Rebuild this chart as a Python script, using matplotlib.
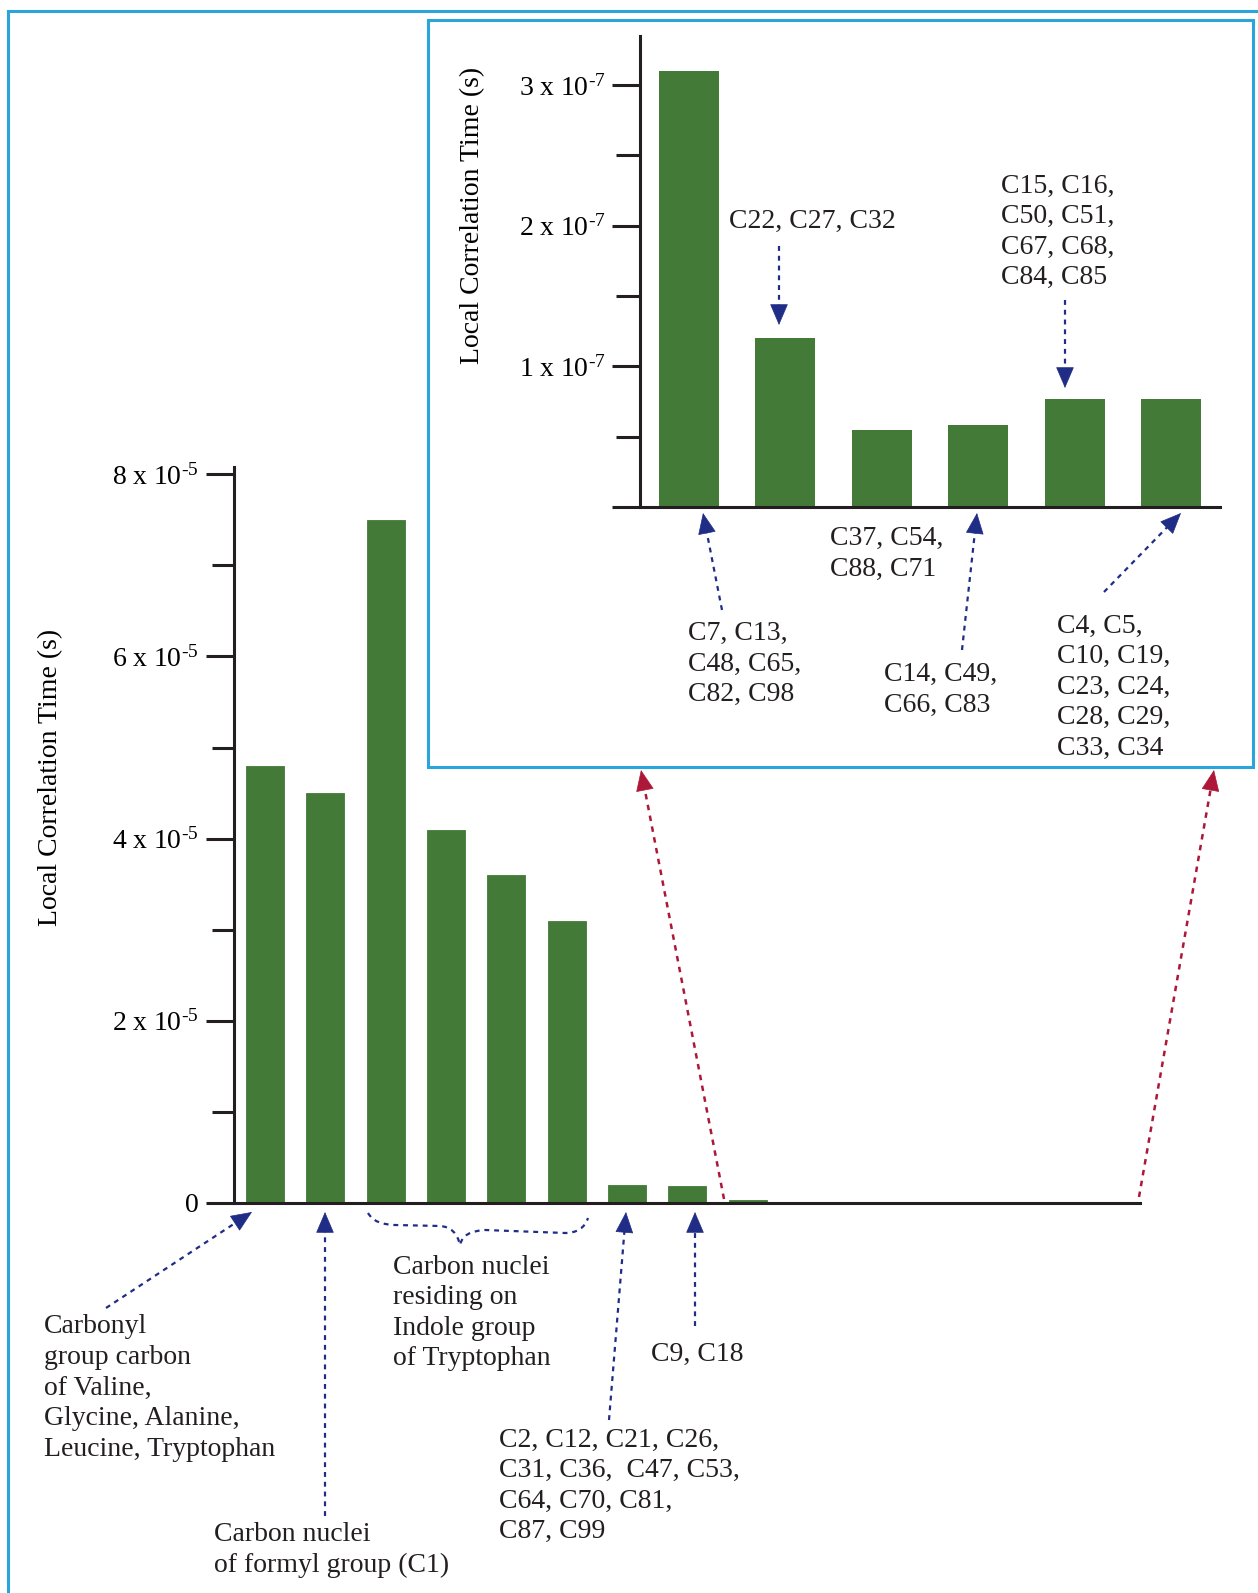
import matplotlib
matplotlib.use('Agg')
import matplotlib.pyplot as plt
from matplotlib.path import Path
from matplotlib.patches import PathPatch, Rectangle, FancyArrowPatch

# ---------------- data ----------------
main_values = [4.8e-5, 4.5e-5, 7.5e-5, 4.1e-5, 3.6e-5, 3.1e-5,
               2.0e-6, 1.9e-6, 3.1e-7, 1.2e-7, 0.55e-7, 0.58e-7, 0.77e-7, 0.77e-7]
inset_values = [3.1e-7, 1.2e-7, 0.55e-7, 0.58e-7, 0.77e-7, 0.77e-7]

main_major_ticks = [0, 2e-5, 4e-5, 6e-5, 8e-5]
main_minor_ticks = [1e-5, 3e-5, 5e-5, 7e-5]
main_tick_mantissa = ['0', '2', '4', '6', '8']
main_exponent = '-5'

inset_major_ticks = [0, 1e-7, 2e-7, 3e-7]
inset_minor_ticks = [0.5e-7, 1.5e-7, 2.5e-7]
inset_tick_mantissa = ['', '1', '2', '3']
inset_exponent = '-7'

ylabel = 'Local Correlation Time (s)'

# ---------------- style ----------------
W, H, DPI = 1258, 1593, 100
GREEN = '#437a37'
BLUE_FRAME = '#2aa5dc'
NAVY = '#1f2d86'
RED = '#ad1838'
AXC = '#231f20'
FONT = 'Liberation Serif'
FS = 20

plt.rcParams['font.family'] = [FONT, 'DejaVu Serif']
plt.rcParams['mathtext.fontset'] = 'custom'
plt.rcParams['mathtext.rm'] = FONT
plt.rcParams['mathtext.it'] = FONT + ':italic'
plt.rcParams['mathtext.default'] = 'regular'

fig = plt.figure(figsize=(W / DPI, H / DPI), dpi=DPI)
fig.patch.set_facecolor('white')


def frac_rect(x0, y_top, x1, y_bot):
    return [x0 / W, 1 - y_bot / H, (x1 - x0) / W, (y_bot - y_top) / H]


def tick_label(m, e):
    if m == '':
        return ''
    if m == '0':
        return '0'
    return r'$%s\ \mathrm{x}\ 10^{\text{-}%s}$' % (m, e.lstrip('-'))


def style_axes(ax, major, minor, mantissa, exponent, maj_len, min_len):
    for s in ['top', 'right']:
        ax.spines[s].set_visible(False)
    for s in ['left', 'bottom']:
        ax.spines[s].set_linewidth(2.2)
        ax.spines[s].set_color(AXC)
    ax.set_xticks([])
    ax.set_yticks(major)
    ax.set_yticks(minor, minor=True)
    ax.set_yticklabels([tick_label(m, exponent) for m in mantissa])
    ax.tick_params(axis='y', which='major', length=maj_len, width=2.2,
                   color=AXC, labelsize=FS, pad=5)
    ax.tick_params(axis='y', which='minor', length=min_len, width=2.2, color=AXC)
    ax.patch.set_alpha(0)


# ---------------- main chart ----------------
ax = fig.add_axes(frac_rect(234, 467, 1140, 1203))
ax.bar(range(len(main_values)), main_values, width=0.63, color=GREEN, zorder=1,
       edgecolor=GREEN, linewidth=0.6)
ax.set_xlim(-0.514, 14.5)
ax.set_ylim(0, 8.08e-5)
style_axes(ax, main_major_ticks, main_minor_ticks, main_tick_mantissa,
           main_exponent, 20.5, 16)

# ---------------- inset chart ----------------
axi = fig.add_axes(frac_rect(640, 35.6, 1220, 507))
axi.bar(range(len(inset_values)), inset_values, width=0.62, color=GREEN, zorder=1)
axi.set_xlim(-0.508, 5.508)
axi.set_ylim(0, 3.35e-7)
style_axes(axi, inset_major_ticks, inset_minor_ticks, inset_tick_mantissa,
           inset_exponent, 20, 17)

# y labels
fig.text(51 / W, 1 - 777 / H, ylabel, rotation=90, ha='center', va='center', fontsize=FS)
fig.text(473 / W, 1 - 215 / H, ylabel, rotation=90, ha='center', va='center', fontsize=FS)

# ---------------- overlay (pixel coordinates) ----------------
ov = fig.add_axes([0, 0, 1, 1], zorder=10)
ov.set_xlim(0, W)
ov.set_ylim(H, 0)
ov.axis('off')
ov.patch.set_alpha(0)

# frames
ov.plot([8, 8, 1258], [1600, 11, 11], color=BLUE_FRAME, lw=2.2, solid_joinstyle='miter')
ov.add_patch(Rectangle((428, 20), 825, 747, fill=False, lw=2.2, edgecolor=BLUE_FRAME))

# text blocks: (x_left, y_center, text)
texts = [
    (44, 1388, 'Carbonyl\ngroup carbon\nof Valine,\nGlycine, Alanine,\nLeucine, Tryptophan'),
    (214, 1550, 'Carbon nuclei\nof formyl group (C1)'),
    (393, 1313, 'Carbon nuclei\nresiding on\nIndole group\nof Tryptophan'),
    (499, 1486, 'C2, C12, C21, C26,\nC31, C36,  C47, C53,\nC64, C70, C81,\nC87, C99'),
    (651, 1354, 'C9, C18'),
    (729, 221, 'C22, C27, C32'),
    (1001, 232, 'C15, C16,\nC50, C51,\nC67, C68,\nC84, C85'),
    (688, 664, 'C7, C13,\nC48, C65,\nC82, C98'),
    (830, 554, 'C37, C54,\nC88, C71'),
    (884, 690, 'C14, C49,\nC66, C83'),
    (1057, 687, 'C4, C5,\nC10, C19,\nC23, C24,\nC28, C29,\nC33, C34'),
]
for x, y, t in texts:
    ov.text(x, y, t, ha='left', va='center', fontsize=FS, linespacing=1.29,
            color='#231f20')


def dotted_arrow(tail, head, color, lw=1.6):
    import math
    dx, dy = head[0] - tail[0], head[1] - tail[1]
    L = math.hypot(dx, dy)
    ux, uy = dx / L, dy / L
    hl = 14
    mid = (head[0] - ux * hl, head[1] - uy * hl)
    ov.plot([tail[0], mid[0] + ux * 2], [tail[1], mid[1] + uy * 2], color=color,
            lw=lw, linestyle=(0, (2.2, 2.2)), solid_capstyle='butt')
    ov.add_patch(FancyArrowPatch(mid, head, arrowstyle='-|>,head_length=0.7,head_width=0.3',
                                 mutation_scale=20, color=color, lw=0.5,
                                 shrinkA=0, shrinkB=0))


blue_arrows = [
    ((106, 1308), (252, 1212)),
    ((325, 1516), (325, 1212)),
    ((609, 1420), (626, 1212)),
    ((695, 1326), (695, 1212)),
    ((779, 246), (779, 325)),
    ((1065, 300), (1065, 388)),
    ((722, 610), (703, 513)),
    ((962, 650), (977, 513)),
    ((1104, 592), (1181, 513)),
]
for t, h in blue_arrows:
    dotted_arrow(t, h, NAVY)

red_arrows = [
    ((724, 1199), (641, 770)),
    ((1139, 1197), (1214, 770)),
]
for t, h in red_arrows:
    dotted_arrow(t, h, RED, lw=1.8)

# dotted curly brace under the indole bars
verts = [(368, 1213), (375, 1225), (395, 1225), (440, 1226), (456, 1227), (460, 1245),
         (463, 1231), (485, 1230), (565, 1233), (583, 1233), (588, 1218)]
codes = [Path.MOVETO, Path.CURVE3, Path.CURVE3, Path.LINETO, Path.CURVE3, Path.CURVE3,
         Path.CURVE3, Path.CURVE3, Path.LINETO, Path.CURVE3, Path.CURVE3]
ov.add_patch(PathPatch(Path(verts, codes), fill=False, edgecolor=NAVY, lw=1.6,
                       linestyle=(0, (2.2, 2.2))))

fig.savefig('out.png', dpi=DPI)
